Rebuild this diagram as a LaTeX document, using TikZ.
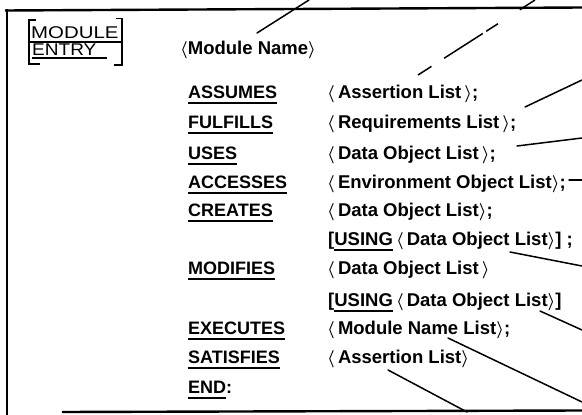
\documentclass[tikz,border=0pt]{standalone}
\usepackage{fontspec}
\setmainfont{Liberation Sans}
\newcommand\ulkw[1]{\setbox0\hbox{#1}\rlap{\rule[-5.5pt]{\wd0}{2.2pt}}\box0}
\newcommand\lab{\mbox{\boldmath$\langle$}}
\newcommand\rab{\mbox{\boldmath$\rangle$}}
\tikzset{
  kw/.style={anchor=base west, inner sep=0pt, font=\fontsize{18}{20}\selectfont\bfseries},
  val/.style={anchor=base west, inner sep=0pt, font=\fontsize{18.5}{20}\selectfont\bfseries},
  lbl/.style={anchor=base west, inner sep=0pt, font=\fontsize{17}{19}\selectfont},
  leader/.style={line width=1.5pt, line cap=round},
  frame/.style={line width=2.4pt},
  boxline/.style={line width=1.6pt},
}
\begin{document}
\begin{tikzpicture}[x=1pt,y=-1pt]
\useasboundingbox (0,0) rectangle (582,415);
% frame
\draw[frame] (5,10.5) -- (582,7.5);
\draw[frame] (7,9) -- (7,415);
\draw[frame] (62,412) -- (582,410.5);
% MODULE ENTRY label
\node[lbl] (mod) at (31,38) {\scalebox{1.2}[1]{MODULE}};
\node[lbl] (ent) at (32,56) {\scalebox{1.12}[1]{ENTRY}};
\draw[boxline] (36,20) -- (29,20) -- (29,64) -- (40,64);
\draw[boxline] (116,18.5) -- (122,18.5) -- (122,65) -- (114,65);
\draw[boxline] (30,42) -- (122,42);
\draw[boxline] (32,58) -- (107,58);
% texts
\node[val] (mname) at (180,54.5) {\lab Module Name\rab};
\node[kw] (k1) at (188,98.5) {\ulkw{ASSUMES}};
\node[val] (v1) at (327,98.5) {\lab\,Assertion List\,\rab;};
\node[kw] (k2) at (188,128.5) {\ulkw{FULFILLS}};
\node[val] (v2) at (327,128.5) {\lab\,Requirements List\,\rab;};
\node[kw] (k3) at (188,159.5) {\ulkw{USES}};
\node[val] (v3) at (327,159.5) {\lab\,Data Object List\,\rab;};
\node[kw] (k4) at (188,188.5) {\ulkw{ACCESSES}};
\node[val] (v4) at (327,188.5) {\lab\,Environment Object List\rab;};
\node[kw] (k5) at (188,216.5) {\ulkw{CREATES}};
\node[val] (v5) at (327,216.5) {\lab\,Data Object List\rab;};
\node[val] (v6) at (328,245.5) {[\ulkw{USING}\,\lab\,Data Object List\rab] ;};
\node[kw] (k7) at (188,274.5) {\ulkw{MODIFIES}};
\node[val] (v7) at (327,274.5) {\lab\,Data Object List\,\rab};
\node[val] (v8) at (328,306.5) {[\ulkw{USING}\,\lab\,Data Object List\rab]};
\node[kw] (k9) at (188,334.5) {\ulkw{EXECUTES}};
\node[val] (v9) at (327,334.5) {\lab\,Module Name List\rab;};
\node[kw] (k10) at (188,363.5) {\ulkw{SATISFIES}};
\node[val] (v10) at (327,363.5) {\lab\,Assertion List\rab};
\node[kw] (k11) at (188,393.5) {\ulkw{END}:};
% leader lines
\coordinate (s1) at (257,33);   \coordinate (e1) at (309,0);
\coordinate (s2) at (418,75);   \coordinate (e2) at (535,0);
\coordinate (s3) at (525,107);  \coordinate (e3) at (582,80);
\coordinate (s4) at (517,146);  \coordinate (e4) at (582,138);
\coordinate (s5) at (569,180);  \coordinate (e5) at (582,180);
\coordinate (s6) at (510,252);  \coordinate (e6) at (582,266);
\coordinate (s7) at (540,311);  \coordinate (e7) at (582,330);
\coordinate (s8) at (448,338);  \coordinate (e8) at (582,402);
\coordinate (s9) at (388,370);  \coordinate (e9) at (467,412);
\draw[leader] (s1) -- (e1);
\draw[leader, line cap=butt, dash pattern=on 16pt off 15pt on 46pt off 4pt on 14pt off 26pt on 22pt] (s2) -- (e2);
\draw[leader] (s3) -- (e3);
\draw[leader] (s4) -- (e4);
\draw[leader] (s5) -- (e5);
\draw[leader] (s6) -- (e6);
\draw[leader] (s7) -- (e7);
\draw[leader] (s8) -- (e8);
\draw[leader] (s9) -- (e9);
\end{tikzpicture}
\end{document}
